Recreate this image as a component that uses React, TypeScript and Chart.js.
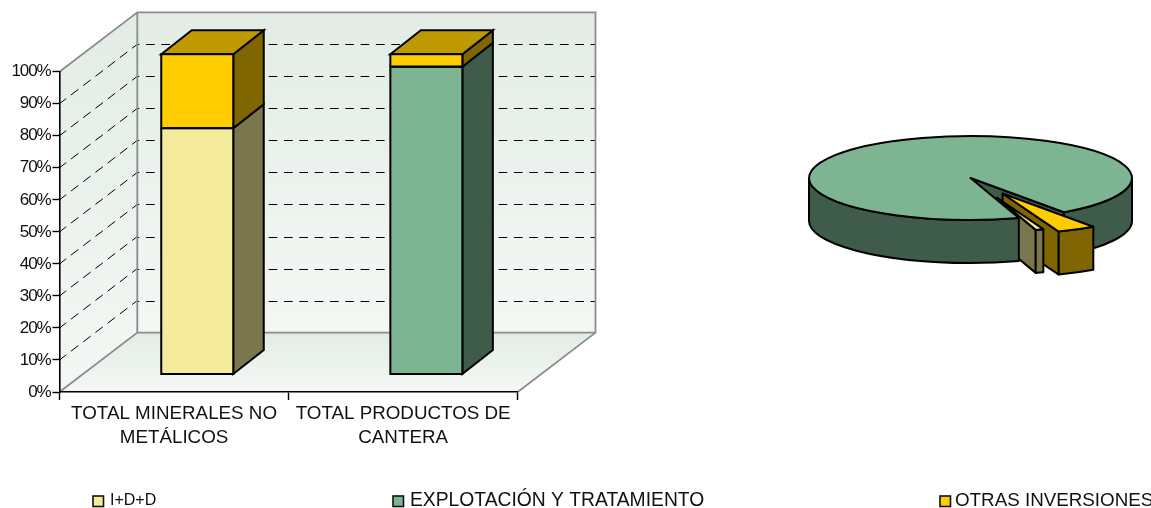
import React, { useEffect, useRef } from "react";
import { Chart, registerables, ArcElement } from "chart.js";

Chart.register(...registerables);

const categories: string[][] = [["TOTAL MINERALES NO", "METÁLICOS"], ["TOTAL PRODUCTOS DE", "CANTERA"]];
const seriesNames = ["I+D+D", "EXPLOTACIÓN Y TRATAMIENTO", "OTRAS INVERSIONES"];
const idd = [76.9, 0];
const explotacion = [0, 96.1];
const otras = [23.1, 3.9];
const pieValues = [1, 95, 4];
const pieExplode = [0.5, 0, 0.42];
const pieShrink = [0.8, 1, 0.97];

const rgbCream = [244, 236, 156];
const rgbGreen = [125, 181, 147];
const rgbYellow = [255, 204, 0];
const seriesRgb = [rgbCream, rgbGreen, rgbYellow];
const css = (c: number[], k = 1) => `rgb(${c.map((v) => Math.round(v * k)).join(",")})`;

const FONT = "'Liberation Sans', Arial, sans-serif";
const WALL_DX = 77.8;
const WALL_DY = -59.4;
const BAR_DX = 23.2;
const BAR_DY = -17.5;
const SIDE_DX = 30.5;
const SIDE_DY = -24;
const GRAY = "#8c8c8c";
const WALL_TOP = "#e2ece5";
const WALL_BOTTOM = "#f4f8f5";
const LEGEND_X = [93, 393, 940];
const LEGEND_TEXT_X = [110, 410, 955];
const LEGEND_SIZE = [16, 19.3, 18.8];

const wallsPlugin = {
  id: "walls",
  beforeDraw(chart: any) {
    const { ctx, chartArea: a, scales } = chart;
    const { left: l, right: r, top: t, bottom: b } = a;
    const dx = WALL_DX, dy = WALL_DY;
    ctx.save();
    const grad = ctx.createLinearGradient(0, t + dy, 0, b + dy);
    grad.addColorStop(0, WALL_TOP);
    grad.addColorStop(1, WALL_BOTTOM);
    const leftGrad = ctx.createLinearGradient(0, t + dy, 0, b);
    leftGrad.addColorStop(0, WALL_TOP);
    leftGrad.addColorStop(1, WALL_BOTTOM);
    const floorGrad = ctx.createLinearGradient(0, b + dy, 0, b);
    floorGrad.addColorStop(0, WALL_TOP);
    floorGrad.addColorStop(1, WALL_BOTTOM);
    const poly = (pts: number[][], fill: any) => {
      ctx.beginPath();
      pts.forEach((p, i) => (i ? ctx.lineTo(p[0], p[1]) : ctx.moveTo(p[0], p[1])));
      ctx.closePath();
      ctx.fillStyle = fill;
      ctx.fill();
    };
    poly([[l, t], [l + dx, t + dy], [l + dx, b + dy], [l, b]], leftGrad);
    poly([[l + dx, t + dy], [r + dx, t + dy], [r + dx, b + dy], [l + dx, b + dy]], grad);
    poly([[l, b], [r, b], [r + dx, b + dy], [l + dx, b + dy]], floorGrad);

    // dashed gridlines on both walls
    ctx.strokeStyle = "#000";
    ctx.lineWidth = 1;
    scales.y.ticks.forEach((tk: any) => {
      if (tk.value === 0 || tk.value === 100) return;
      const y = scales.y.getPixelForValue(tk.value);
      ctx.setLineDash([9.4, 6]);
      ctx.lineDashOffset = 1;
      ctx.beginPath();
      ctx.moveTo(l, y);
      ctx.lineTo(l + dx, y + dy);
      ctx.stroke();
      ctx.setLineDash([8.7, 6.63]);
      ctx.lineDashOffset = 6.63;
      ctx.beginPath();
      ctx.moveTo(l + dx, Math.round(y + dy) + 0.5);
      ctx.lineTo(r + dx, Math.round(y + dy) + 0.5);
      ctx.stroke();
    });
    ctx.setLineDash([]);

    // gray frame
    ctx.strokeStyle = GRAY;
    ctx.lineWidth = 1.8;
    ctx.beginPath();
    ctx.moveTo(l, t);
    ctx.lineTo(l + dx, t + dy);
    ctx.lineTo(r + dx, t + dy);
    ctx.lineTo(r + dx, b + dy);
    ctx.lineTo(r, b);
    ctx.moveTo(r + dx, b + dy);
    ctx.lineTo(l + dx, b + dy);
    ctx.lineTo(l, b);
    ctx.moveTo(l + dx, t + dy);
    ctx.lineTo(l + dx, b + dy);
    ctx.stroke();
    ctx.restore();
  },
  beforeDatasetsDraw(chart: any) {
    const { ctx, data } = chart;
    ctx.save();
    ctx.lineWidth = 2;
    ctx.lineJoin = "miter";
    ctx.strokeStyle = "#000";
    const face = (pts: number[][], fill: string) => {
      ctx.beginPath();
      pts.forEach((p, i) => (i ? ctx.lineTo(p[0], p[1]) : ctx.moveTo(p[0], p[1])));
      ctx.closePath();
      ctx.fillStyle = fill;
      ctx.fill();
      ctx.stroke();
    };
    data.labels.forEach((_: any, col: number) => {
      let topEl: any = null;
      let topIdx = 0;
      data.datasets.forEach((ds: any, di: number) => {
        const el = chart.getDatasetMeta(di).data[col];
        if (!ds.data[col]) return;
        const xr = el.x + el.width / 2 + BAR_DX;
        const yt = el.y + BAR_DY;
        const yb = el.base + BAR_DY;
        face([[xr, yt], [xr + SIDE_DX, yt + SIDE_DY], [xr + SIDE_DX, yb + SIDE_DY], [xr, yb]], css(seriesRgb[di], 0.5));
        topEl = el;
        topIdx = di;
      });
      if (topEl) {
        const xr = topEl.x + topEl.width / 2 + BAR_DX;
        const xl = topEl.x - topEl.width / 2 + BAR_DX;
        const yt = topEl.y + BAR_DY;
        face([[xl, yt], [xl + SIDE_DX, yt + SIDE_DY], [xr + SIDE_DX, yt + SIDE_DY], [xr, yt]], css(seriesRgb[topIdx], 0.75));
      }
    });
    ctx.translate(BAR_DX, BAR_DY);
  },
  afterDatasetsDraw(chart: any) {
    const { ctx, data } = chart;
    ctx.restore();
    ctx.save();
    ctx.lineWidth = 2;
    ctx.strokeStyle = "#000";
    data.datasets.forEach((ds: any, di: number) => {
      chart.getDatasetMeta(di).data.forEach((el: any, col: number) => {
        if (!ds.data[col]) return;
        ctx.strokeRect(el.x - el.width / 2 + BAR_DX, el.y + BAR_DY, el.width, el.base - el.y);
      });
    });
    ctx.restore();
  },
  afterDraw(chart: any) {
    const { ctx } = chart;
    ctx.save();
    seriesNames.forEach((name, i) => {
      const x = LEGEND_X[i];
      ctx.fillStyle = css(seriesRgb[i]);
      ctx.strokeStyle = "#111";
      ctx.lineWidth = 1.6;
      ctx.fillRect(x, 496, 10.5, 10.5);
      ctx.strokeRect(x, 496, 10.5, 10.5);
      ctx.fillStyle = "#111";
      ctx.font = `${LEGEND_SIZE[i]}px ${FONT}`;
      ctx.textBaseline = "middle";
      ctx.textAlign = "left";
      ctx.fillText(name, LEGEND_TEXT_X[i], 501);
    });
    ctx.restore();
  },
};

const RX = 161.5;
const RY = 42;
const DEPTH = 43;

const piePlugin = {
  id: "pie3d",
  afterDatasetsUpdate(chart: any) {
    const arcs = chart.getDatasetMeta(0).data;
    arcs.forEach((arc: any, i: number) => {
      arc.draw = (ctx: any) => {
        const mid = (arc.startAngle + arc.endAngle) / 2;
        const off = pieExplode[i] * arc.outerRadius;
        ctx.save();
        ctx.translate(arc.x + Math.cos(mid) * off, arc.y + Math.sin(mid) * off);
        ctx.scale(pieShrink[i], pieShrink[i]);
        ctx.translate(-arc.x, -arc.y);
        ArcElement.prototype.draw.call(arc, ctx);
        ctx.restore();
      };
    });
  },
  beforeDatasetsDraw(chart: any) {
    const { ctx } = chart;
    const arcs = chart.getDatasetMeta(0).data;
    const R = arcs[1].outerRadius;
    const cx = arcs[1].x;
    const cy = arcs[1].y;
    const sx = RX / R;
    const sy = RY / R;
    const g = arcs.map((arc: any, i: number) => {
      const mid = (arc.startAngle + arc.endAngle) / 2;
      const off = pieExplode[i] * R;
      return {
        ax: cx + Math.cos(mid) * off * sx,
        ay: cy + Math.sin(mid) * off * sy,
        rx: RX * pieShrink[i],
        ry: RY * pieShrink[i],
        a0: arc.startAngle,
        a1: arc.endAngle,
      };
    });
    chart.$wedges = g;
    ctx.save();
    ctx.lineWidth = 2;
    ctx.lineJoin = "round";
    ctx.strokeStyle = "#000";
    const radial = (w: any, a: number, color: string) => {
      const px = w.ax + Math.cos(a) * w.rx;
      const py = w.ay + Math.sin(a) * w.ry;
      ctx.beginPath();
      ctx.moveTo(w.ax, w.ay);
      ctx.lineTo(px, py);
      ctx.lineTo(px, py + DEPTH);
      ctx.lineTo(w.ax, w.ay + DEPTH);
      ctx.closePath();
      ctx.fillStyle = color;
      ctx.fill();
      ctx.stroke();
    };
    const rim = (w: any, a: number, b: number, color: string) => {
      ctx.beginPath();
      ctx.ellipse(w.ax, w.ay, w.rx, w.ry, 0, a, b);
      ctx.ellipse(w.ax, w.ay + DEPTH, w.rx, w.ry, 0, b, a, true);
      ctx.closePath();
      ctx.fillStyle = color;
      ctx.fill();
      ctx.stroke();
    };
    radial(g[1], g[1].a1, css(rgbGreen, 0.5));
    radial(g[2], g[2].a1, css(rgbYellow, 0.5));
    radial(g[0], g[0].a1, css(rgbCream, 0.5));
    rim(g[1], g[1].a0, Math.PI, css(rgbGreen, 0.5));
    rim(g[1], Math.PI * 2, g[1].a1, css(rgbGreen, 0.5));
    rim(g[2], g[2].a0, g[2].a1, css(rgbYellow, 0.5));
    rim(g[0], g[0].a0, g[0].a1, css(rgbCream, 0.5));
    ctx.restore();
    ctx.save();
    ctx.translate(cx, cy);
    ctx.scale(sx, sy);
    ctx.translate(-cx, -cy);
  },
  afterDatasetsDraw(chart: any) {
    const { ctx } = chart;
    ctx.restore();
    ctx.save();
    ctx.lineWidth = 2;
    ctx.lineJoin = "round";
    ctx.strokeStyle = "#000";
    chart.$wedges.forEach((w: any) => {
      ctx.beginPath();
      ctx.moveTo(w.ax, w.ay);
      ctx.ellipse(w.ax, w.ay, w.rx, w.ry, 0, w.a0, w.a1);
      ctx.closePath();
      ctx.stroke();
    });
    ctx.restore();
  },
};

export default function App() {
  const barRef = useRef<HTMLCanvasElement>(null);
  const pieRef = useRef<HTMLCanvasElement>(null);

  useEffect(() => {
    const values = [idd, explotacion, otras];
    const bar = new Chart(barRef.current as any, {
      type: "bar",
      data: {
        labels: categories as any,
        datasets: seriesNames.map((label, i) => ({
          label,
          data: values[i],
          backgroundColor: css(seriesRgb[i]),
          borderWidth: 0,
          barPercentage: 0.3143,
          categoryPercentage: 1,
          clip: false as any,
        })),
      },
      options: {
        responsive: false,
        animation: false,
        events: [],
        layout: { padding: { left: 0, top: 71.7, right: 633.3, bottom: 0 } },
        plugins: { legend: { display: false }, title: { display: false }, tooltip: { enabled: false } },
        scales: {
          x: {
            stacked: true,
            border: { color: "#000", width: 1.6 },
            grid: { drawOnChartArea: false, drawTicks: true, tickLength: 8, tickColor: "#000", tickWidth: 1.4 },
            ticks: {
              color: "#111",
              font: { family: FONT, size: 18.8, lineHeight: 1.28 },
              maxRotation: 0,
              autoSkip: false,
              padding: 2,
            },
            afterFit(s: any) {
              s.height = 116;
            },
          },
          y: {
            stacked: true,
            min: 0,
            max: 100,
            border: { color: "#000", width: 1.6 },
            grid: { drawOnChartArea: false, drawTicks: true, tickLength: 7, tickColor: "#000", tickWidth: 1.4 },
            ticks: {
              stepSize: 10,
              color: "#111",
              padding: 2,
              font: { family: FONT, size: 17 },
              callback: (v: any) => `${v}%`,
            },
            afterFit(s: any) {
              s.width = 59.5;
              if (!s.$tight) {
                s.$tight = true;
                const original = s.drawLabels.bind(s);
                s.drawLabels = (area: any) => {
                  s.ctx.save();
                  s.ctx.letterSpacing = "-1.1px";
                  original(area);
                  s.ctx.restore();
                };
              }
            },
          },
        },
      } as any,
      plugins: [wallsPlugin as any],
    });

    const pie = new Chart(pieRef.current as any, {
      type: "pie",
      data: {
        labels: seriesNames,
        datasets: [
          {
            data: pieValues,
            backgroundColor: seriesRgb.map((c) => css(c)),
            borderWidth: 0,
            clip: false as any,
          },
        ],
      },
      options: {
        responsive: false,
        animation: false,
        events: [],
        rotation: 159,
        plugins: { legend: { display: false }, title: { display: false }, tooltip: { enabled: false } },
      } as any,
      plugins: [piePlugin as any],
    });

    return () => {
      bar.destroy();
      pie.destroy();
    };
  }, []);

  return (
    <div style={{ position: "absolute", left: 0, top: 0, width: 1151, height: 508, overflow: "hidden", background: "#fff" }}>
      <canvas ref={barRef} width={1151} height={508} style={{ position: "absolute", left: 0, top: 0 }} />
      <canvas ref={pieRef} width={361} height={236} style={{ position: "absolute", left: 790, top: 60 }} />
    </div>
  );
}
